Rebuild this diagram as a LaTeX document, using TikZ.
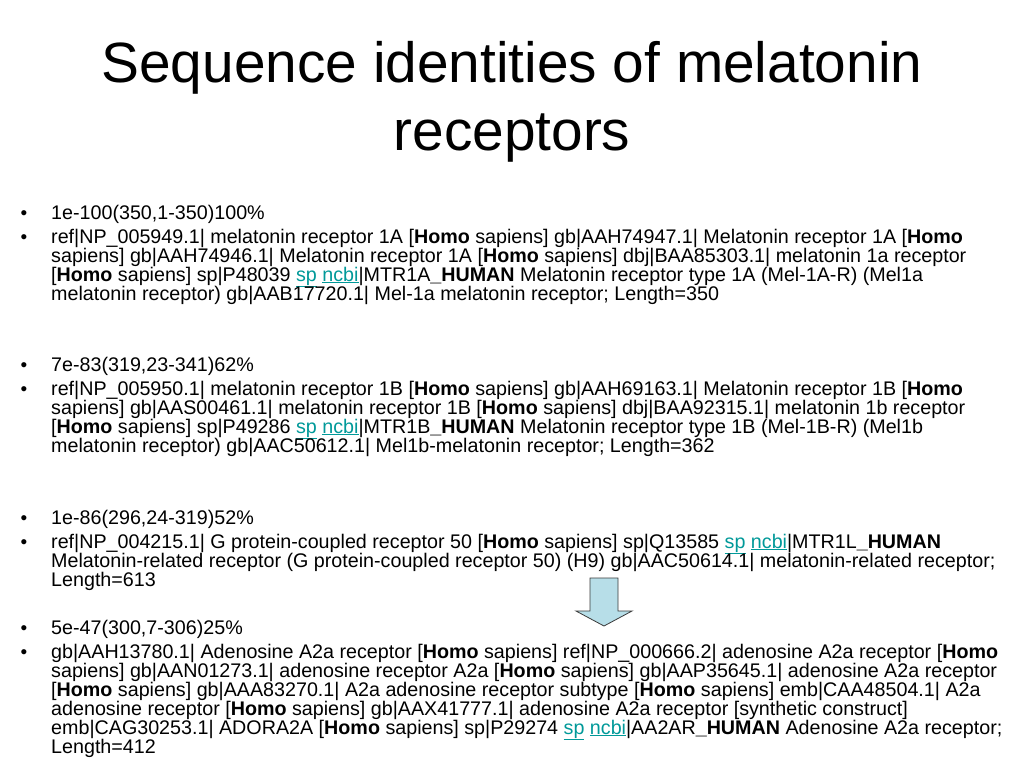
\documentclass[tikz,border=0pt]{standalone}
\usepackage{fontspec}
\setmainfont{Liberation Sans}
\definecolor{linkteal}{HTML}{009999}
\definecolor{arrowblue}{HTML}{B7DEE8}
\definecolor{arrowline}{HTML}{3A3A3A}
\begin{document}
\begin{tikzpicture}[x=1pt,y=-1pt,
  titletext/.style={font=\fontsize{56.8}{56.8}\selectfont, anchor=base, inner sep=0},
  bodytext/.style={font=\fontsize{19.7}{19}\selectfont, anchor=base west, inner sep=0},
  bul/.style={font=\fontsize{19}{19}\selectfont, anchor=base, inner sep=0}
]
    \newcommand{\homo}{\textbf{Homo}}
    \newcommand{\hum}{\textbf{\_HUMAN}}
    \newcommand{\lnk}[1]{\textcolor{linkteal}{\smash{\underline{#1}}}}
    \newcommand{\hitlines}[1]{\parbox[t]{990pt}{\raggedright #1}}
  \useasboundingbox[fill=white] (0,0) rectangle (1024,768);

  \node[titletext] (t1) at (512,82) {Sequence identities of melatonin};
  \node[titletext] (t2) at (512,150) {receptors};

  \foreach \y [count=\i] in {219,243,371,395,524,548,634,658}
    \node[bul] (b\i) at (24,\y) {•};

  \node[bodytext] (s1) at (51,219) {1e-100(350,1-350)100\%};
  \node[bodytext] (s2) at (51,243) {\hitlines{ref|NP\_005949.1| melatonin receptor 1A [\homo{} sapiens] gb|AAH74947.1| Melatonin receptor 1A [\homo\newline
    sapiens] gb|AAH74946.1| Melatonin receptor 1A [\homo{} sapiens] dbj|BAA85303.1| melatonin 1a receptor\newline
    [\homo{} sapiens] sp|P48039 \lnk{sp} \lnk{ncbi}|MTR1A\hum{} Melatonin receptor type 1A (Mel-1A-R) (Mel1a\newline
    melatonin receptor) gb|AAB17720.1| Mel-1a melatonin receptor; Length=350}};

  \node[bodytext] (s3) at (51,371) {7e-83(319,23-341)62\%};
  \node[bodytext] (s4) at (51,395) {\hitlines{ref|NP\_005950.1| melatonin receptor 1B [\homo{} sapiens] gb|AAH69163.1| Melatonin receptor 1B [\homo\newline
    sapiens] gb|AAS00461.1| melatonin receptor 1B [\homo{} sapiens] dbj|BAA92315.1| melatonin 1b receptor\newline
    [\homo{} sapiens] sp|P49286 \lnk{sp} \lnk{ncbi}|MTR1B\hum{} Melatonin receptor type 1B (Mel-1B-R) (Mel1b\newline
    melatonin receptor) gb|AAC50612.1| Mel1b-melatonin receptor; Length=362}};

  \node[bodytext] (s5) at (51,524) {1e-86(296,24-319)52\%};
  \node[bodytext] (s6) at (51,548) {\hitlines{ref|NP\_004215.1| G protein-coupled receptor 50 [\homo{} sapiens] sp|Q13585 \lnk{sp} \lnk{ncbi}|MTR1L\hum\newline
    Melatonin-related receptor (G protein-coupled receptor 50) (H9) gb|AAC50614.1| melatonin-related receptor;\newline
    Length=613}};

  \node[bodytext] (s7) at (51,634) {5e-47(300,7-306)25\%};
  \node[bodytext] (s8) at (51,658) {\hitlines{gb|AAH13780.1| Adenosine A2a receptor [\homo{} sapiens] ref|NP\_000666.2| adenosine A2a receptor [\homo\newline
    sapiens] gb|AAN01273.1| adenosine receptor A2a [\homo{} sapiens] gb|AAP35645.1| adenosine A2a receptor\newline
    [\homo{} sapiens] gb|AAA83270.1| A2a adenosine receptor subtype [\homo{} sapiens] emb|CAA48504.1| A2a\newline
    adenosine receptor [\homo{} sapiens] gb|AAX41777.1| adenosine A2a receptor [synthetic construct]\newline
    emb|CAG30253.1| ADORA2A [\homo{} sapiens] sp|P29274 \lnk{sp} \lnk{ncbi}|AA2AR\hum{} Adenosine A2a receptor;\newline
    Length=412}};

  \draw[fill=arrowblue, draw=arrowline, line width=0.8pt, line join=miter]
    (590,578) -- (618,578) -- (618,611) -- (632,611) -- (604,626)
    -- (576,611) -- (590,611) -- cycle;
\end{tikzpicture}
\end{document}
